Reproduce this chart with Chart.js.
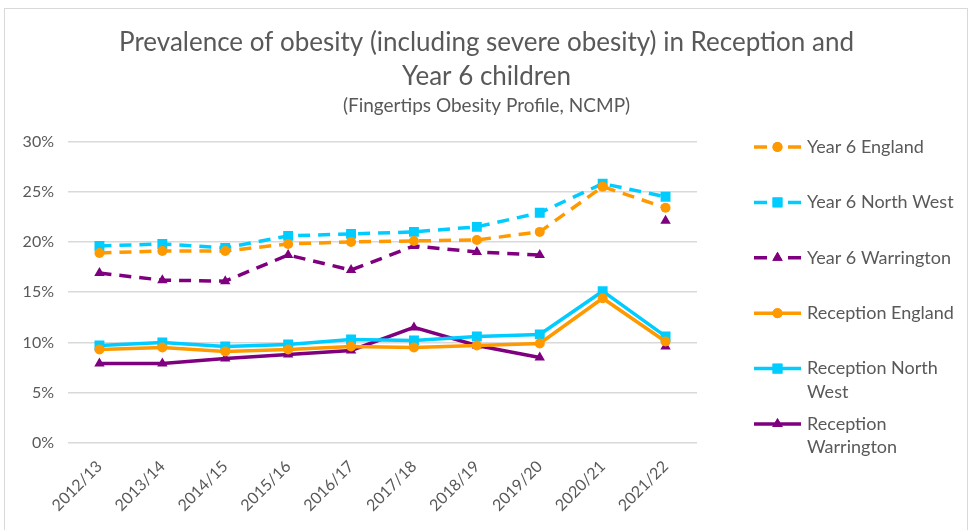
<!DOCTYPE html>
<html>
<head>
<meta charset="utf-8">
<script src="https://cdn.jsdelivr.net/npm/chart.js@4"></script>
<style>
  html, body { margin: 0; padding: 0; background: #fff; }
  #wrap { position: relative; width: 973px; height: 530px; }
  #frame { position: absolute; left: 4px; top: 8px; width: 964px; height: 530px; border: 1px solid #d9d9d9; box-sizing: border-box; pointer-events: none; }
</style>
</head>
<body>
<div id="wrap">
  <canvas id="obesityChart" width="973" height="530"></canvas>
  <div id="frame"></div>
</div>
<script>
const jahre = ["2012/13", "2013/14", "2014/15", "2015/16", "2016/17", "2017/18", "2018/19", "2019/20", "2020/21", "2021/22"];

const year6England = [18.9, 19.1, 19.1, 19.8, 20.0, 20.1, 20.2, 21.0, 25.5, 23.4];
const year6NorthWest = [19.6, 19.8, 19.4, 20.6, 20.8, 21.0, 21.5, 22.9, 25.8, 24.5];
const year6Warrington = [16.9, 16.2, 16.1, 18.7, 17.2, 19.6, 19.0, 18.7, null, 22.1];
const receptionEngland = [9.3, 9.5, 9.1, 9.3, 9.6, 9.5, 9.7, 9.9, 14.4, 10.1];
const receptionNorthWest = [9.7, 10.0, 9.6, 9.8, 10.3, 10.2, 10.6, 10.8, 15.1, 10.6];
const receptionWarrington = [7.9, 7.9, 8.4, 8.8, 9.2, 11.5, 9.7, 8.5, null, 9.6];

const legendText = [["Year 6 England"], ["Year 6 North West"], ["Year 6 Warrington"], ["Reception England"], ["Reception North", "West"], ["Reception", "Warrington"]];

const ORANGE = "#FF9900";
const CYAN = "#00CCFF";
const PURPLE = "#7F007F";
const GRAU = "#595959";
const SCHRIFT = "Lato, 'Open Sans', sans-serif";

function serie(label, data, farbe, punkt, gestrichelt) {
  return {
    label,
    data,
    borderColor: farbe,
    backgroundColor: farbe,
    borderWidth: 3.5,
    borderDash: gestrichelt ? [12, 8] : [],
    pointStyle: punkt,
    pointRadius: punkt === "rect" ? 7 : (punkt === "triangle" ? 6 : 5),
    pointBorderWidth: 0,
    spanGaps: false,
    tension: 0
  };
}

const datasets = [
  serie("Year 6 England", year6England, ORANGE, "circle", true),
  serie("Year 6 North West", year6NorthWest, CYAN, "rect", true),
  serie("Year 6 Warrington", year6Warrington, PURPLE, "triangle", true),
  serie("Reception England", receptionEngland, ORANGE, "circle", false),
  serie("Reception North West", receptionNorthWest, CYAN, "rect", false),
  serie("Reception Warrington", receptionWarrington, PURPLE, "triangle", false)
];

// eigene Legende rechts, mit Zeilenumbruch wie im Original
const legendePlugin = {
  id: "legendeRechts",
  afterDraw(chart) {
    const ctx = chart.ctx;
    const x0 = chart.chartArea.right + 57;
    const yStart = 147;
    const abstand = 55.4;
    ctx.save();
    chart.data.datasets.forEach((ds, i) => {
      const y = yStart + i * abstand;
      ctx.strokeStyle = ds.borderColor;
      ctx.lineWidth = 3.5;
      ctx.setLineDash(ds.borderDash.length ? [13, 21] : []);
      ctx.beginPath();
      ctx.moveTo(x0, y);
      ctx.lineTo(x0 + 47, y);
      ctx.stroke();
      ctx.setLineDash([]);
      ctx.fillStyle = ds.borderColor;
      Chart.helpers.drawPoint(ctx, { pointStyle: ds.pointStyle, radius: ds.pointRadius, borderWidth: 0 }, x0 + 23.5, y);
      ctx.fill();
      ctx.fillStyle = GRAU;
      ctx.font = "18px " + SCHRIFT;
      ctx.textBaseline = "middle";
      ctx.textAlign = "left";
      legendText[i].forEach((zeile, j) => {
        ctx.fillText(zeile, x0 + 53, y + j * 23.5);
      });
    });
    ctx.restore();
  }
};

const config = {
  type: "line",
  data: { labels: jahre, datasets },
  options: {
    responsive: false,
    animation: false,
    layout: { padding: { left: 0, right: 0, top: 26, bottom: 0 } },
    plugins: {
      legend: { display: false },
      tooltip: { enabled: false },
      title: {
        display: true,
        text: ["Prevalence of obesity (including severe obesity) in Reception and", "Year 6 children"],
        color: GRAU,
        font: { family: SCHRIFT, size: 26, weight: "normal", lineHeight: 1.3 },
        padding: { top: 0, bottom: 1 }
      },
      subtitle: {
        display: true,
        text: "(Fingertips Obesity Profile, NCMP)",
        color: GRAU,
        font: { family: SCHRIFT, size: 19, weight: "normal" },
        padding: { top: 0, bottom: 24 }
      }
    },
    scales: {
      x: {
        offset: true,
        grid: { display: false },
        border: { display: false },
        ticks: {
          color: GRAU,
          font: { family: SCHRIFT, size: 16 },
          minRotation: 45,
          maxRotation: 45,
          autoSkip: false,
          padding: 6
        },
        afterFit: s => { s.height = 87; }
      },
      y: {
        min: 0,
        max: 30,
        grid: { color: "#d9d9d9", lineWidth: 1.5, drawTicks: false },
        border: { display: false },
        ticks: {
          stepSize: 5,
          color: GRAU,
          font: { family: SCHRIFT, size: 16 },
          padding: 14,
          callback: v => v + "%"
        },
        afterFit: s => { s.width = 68; }
      },
      platz: {
        position: "right",
        display: true,
        grid: { display: false },
        border: { display: false },
        ticks: { display: false },
        afterFit: s => { s.width = 276; }
      }
    }
  },
  plugins: [legendePlugin]
};

new Chart(document.getElementById("obesityChart"), config);
</script>
</body>
</html>
